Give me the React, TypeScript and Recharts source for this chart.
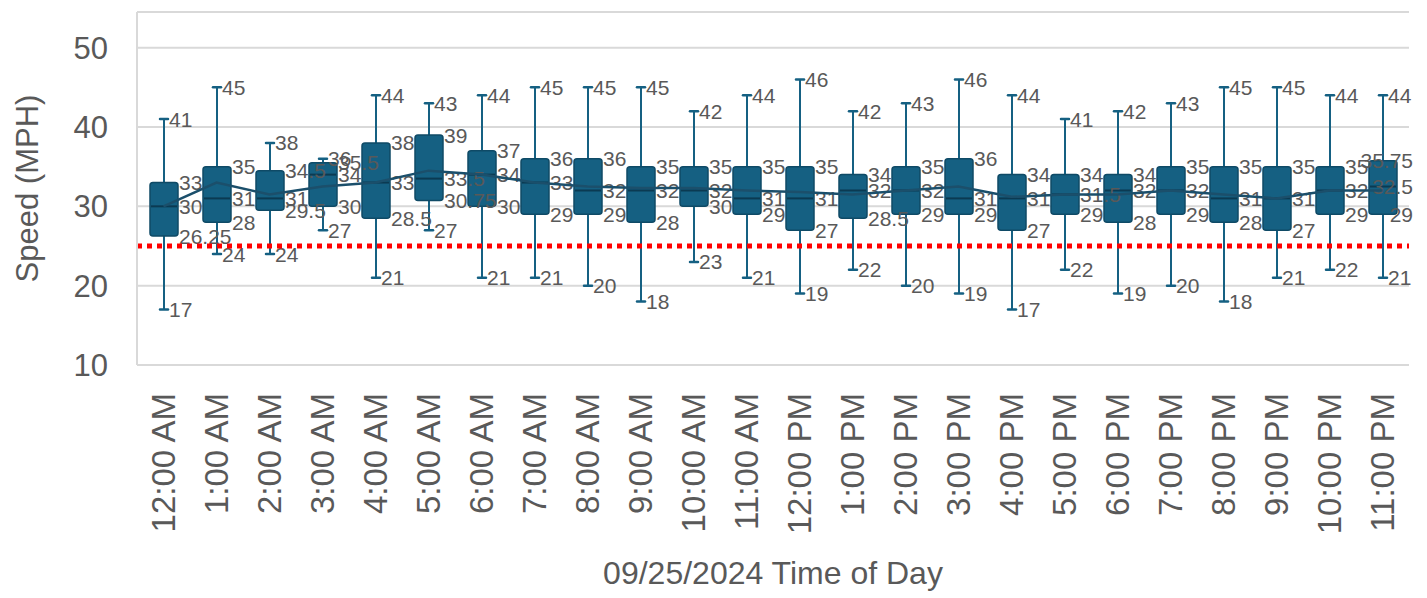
import React from 'react';
import {
  Bar,
  CartesianGrid,
  ComposedChart,
  Line,
  ReferenceLine,
  XAxis,
  YAxis,
} from 'recharts';

// one entry per hour
const hours = [
  '12:00 AM', '1:00 AM', '2:00 AM', '3:00 AM', '4:00 AM', '5:00 AM',
  '6:00 AM', '7:00 AM', '8:00 AM', '9:00 AM', '10:00 AM', '11:00 AM',
  '12:00 PM', '1:00 PM', '2:00 PM', '3:00 PM', '4:00 PM', '5:00 PM',
  '6:00 PM', '7:00 PM', '8:00 PM', '9:00 PM', '10:00 PM', '11:00 PM',
];
const minSpeed = [17, 24, 24, 27, 21, 27, 21, 21, 20, 18, 23, 21, 19, 22, 20, 19, 17, 22, 19, 20, 18, 21, 22, 21];
const q1Speed = [26.25, 28, 29.5, 30, 28.5, 30.75, 30, 29, 29, 28, 30, 29, 27, 28.5, 29, 29, 27, 29, 28, 29, 28, 27, 29, 29];
const medianSpeed = [30, 31, 31, 34, 33, 33.5, 34, 33, 32, 32, 32, 31, 31, 32, 32, 31, 31, 31.5, 32, 32, 31, 31, 32, 32.5];
const q3Speed = [33, 35, 34.5, 35.5, 38, 39, 37, 36, 36, 35, 35, 35, 35, 34, 35, 36, 34, 34, 34, 35, 35, 35, 35, 35.75];
const maxSpeed = [41, 45, 38, 36, 44, 43, 44, 45, 45, 45, 42, 44, 46, 42, 43, 46, 44, 41, 42, 43, 45, 45, 44, 44];
const meanSpeed = [30, 33, 31.5, 32.5, 33, 34.5, 34, 33, 32.5, 32.3, 32.3, 32, 31.8, 31.5, 32, 32.5, 31.2, 31.5, 31.5, 32, 31.5, 31, 32, 32];
const speedLimit = 25;
const yTicks = [10, 20, 30, 40, 50];

const data = hours.map((hour, i) => ({
  hour,
  box: [q1Speed[i], q3Speed[i]],
  min: minSpeed[i],
  q1: q1Speed[i],
  median: medianSpeed[i],
  q3: q3Speed[i],
  max: maxSpeed[i],
  mean: meanSpeed[i],
}));

const BOX = '#156082';
const TEXT = '#595959';
const GRID = '#d9d9d9';
const FONT = '"Liberation Sans", Arial, sans-serif';
const LABEL_SIZE = 21;

// y position of any value, worked out from the bar's own q1..q3 geometry
function geometry(props: any) {
  const { x, y, width, height, payload } = props;
  const top = Math.min(y, y + height);
  const h = Math.abs(height);
  const ppu = h / (payload.q3 - payload.q1);
  const py = (v: number) => top + (payload.q3 - v) * ppu;
  return { x, top, width, h, py, cx: x + width / 2, p: payload };
}

function BoxShape(props: any) {
  const { x, top, width, h, py, cx, p } = geometry(props);
  return (
    <g>
      <line x1={cx} x2={cx} y1={py(p.max)} y2={py(p.min)} stroke={BOX} strokeWidth={2} />
      <line x1={cx - 4} x2={cx + 4} y1={py(p.max)} y2={py(p.max)} stroke={BOX} strokeWidth={2.5} strokeLinecap="round" />
      <line x1={cx - 4} x2={cx + 4} y1={py(p.min)} y2={py(p.min)} stroke={BOX} strokeWidth={2.5} strokeLinecap="round" />
      <rect x={x} y={top} width={width} height={h} fill={BOX} stroke="#0f4a66" strokeWidth={1.5} rx={3} />
      <line x1={x + 1} x2={x + width - 1} y1={py(p.median)} y2={py(p.median)} stroke="#0b3a52" strokeWidth={2} />
    </g>
  );
}

function textWidth(s: string) {
  let w = 0;
  for (const ch of s) w += ch === '.' ? 0.278 * LABEL_SIZE : 0.556 * LABEL_SIZE;
  return w;
}

function LabelShape(props: any) {
  const { x, width, py, cx, p } = geometry(props);
  const items: [number, number][] = [
    [p.max, cx + 5],
    [p.q3, x + width + 1],
    [p.median, x + width + 1],
    [p.q1, x + width + 1],
    [p.min, cx + 5],
  ];
  return (
    <g>
      {items.map(([v, lx], k) => {
        const s = String(v);
        const tx = Math.min(lx, 1413 - textWidth(s));
        return (
          <text key={k} x={tx} y={py(v)} dy="0.36em" fontSize={LABEL_SIZE} fill={TEXT}>
            {s}
          </text>
        );
      })}
    </g>
  );
}

function HourTick(props: any) {
  const { x, y, payload } = props;
  return (
    <text
      x={x}
      y={y}
      transform={`rotate(-90, ${x}, ${y})`}
      textAnchor="end"
      dy="0.35em"
      fontSize={33}
      fill={TEXT}
    >
      {payload.value}
    </text>
  );
}

export default function App() {
  return (
    <div style={{ position: 'absolute', left: 0, top: 0, fontFamily: FONT, background: '#fff' }}>
      <ComposedChart width={1427} height={598} data={data} margin={{ top: 12, right: 18, bottom: 0, left: 0 }}>
        <CartesianGrid vertical={false} stroke={GRID} strokeWidth={2} />
        <XAxis
          dataKey="hour"
          height={233}
          interval={0}
          tickSize={0}
          tickMargin={28}
          tick={<HourTick />}
          axisLine={{ stroke: GRID, strokeWidth: 2 }}
          label={(lp: any) => {
            const vb = lp.viewBox;
            return (
              <text x={vb.x + vb.width / 2} y={584} textAnchor="middle" fontSize={32} fill={TEXT}>
                09/25/2024 Time of Day
              </text>
            );
          }}
        />
        <XAxis xAxisId="lbl" dataKey="hour" hide />
        <YAxis
          width={137}
          domain={[10, 54.5]}
          ticks={yTicks}
          tickSize={0}
          tickMargin={29}
          tick={{ fontSize: 31, fill: TEXT }}
          axisLine={{ stroke: GRID, strokeWidth: 2 }}
          label={(lp: any) => {
            const vb = lp.viewBox;
            const cy = vb.y + vb.height / 2;
            return (
              <text x={27} y={cy} transform={`rotate(-90, 27, ${cy})`} textAnchor="middle" dy="0.35em" fontSize={31} fill={TEXT}>
                Speed (MPH)
              </text>
            );
          }}
        />
        <Bar dataKey="box" barSize={28} shape={<BoxShape />} isAnimationActive={false} />
        <Line dataKey="mean" type="linear" stroke="#1b4f6b" strokeWidth={2.5} dot={false} isAnimationActive={false} />
        <ReferenceLine y={speedLimit} stroke="#ff0000" strokeWidth={5} strokeDasharray="5 5" />
        <Bar xAxisId="lbl" dataKey="box" barSize={28} shape={<LabelShape />} isAnimationActive={false} />
      </ComposedChart>
    </div>
  );
}
